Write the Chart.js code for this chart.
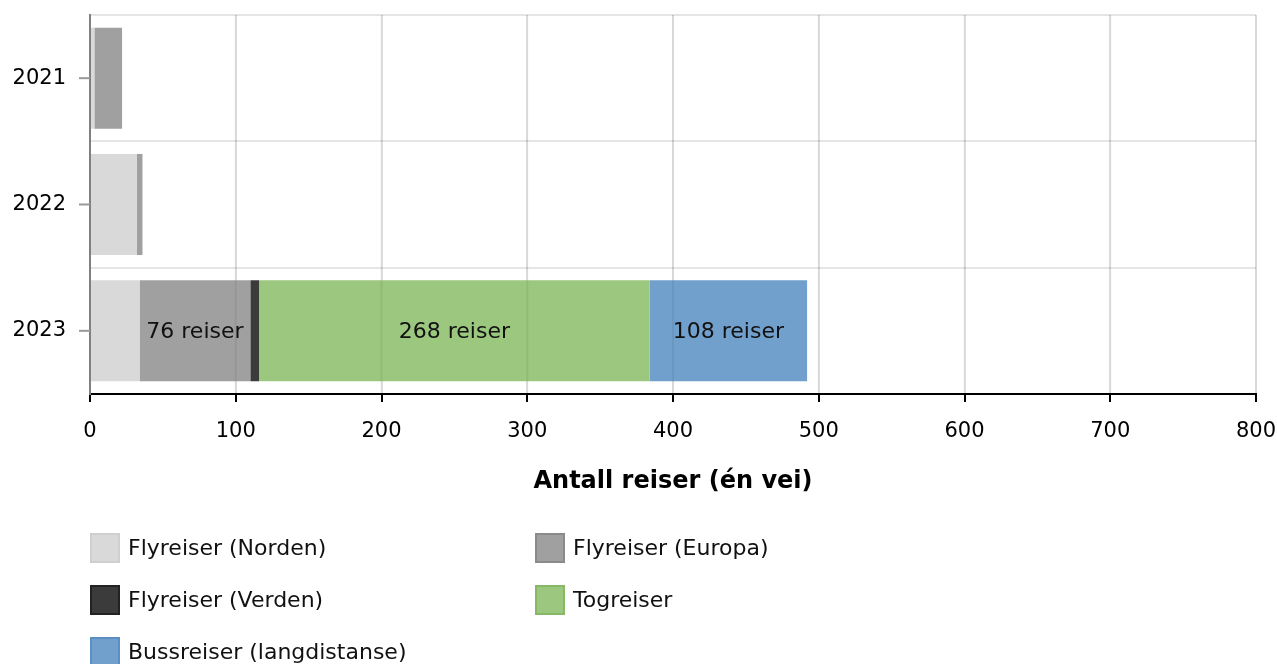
<!DOCTYPE html>
<html lang="no">
<head>
  <meta charset="UTF-8">
  <title>Antall reiser</title>
  <script src="https://cdn.jsdelivr.net/npm/chart.js"></script>
  <style>
    html, body { margin: 0; padding: 0; background: #fff; }
    #wrap { position: relative; width: 1277px; height: 664px; }
  </style>
</head>
<body>
  <div id="wrap">
    <canvas id="myChart" width="1277" height="664"></canvas>
  </div>
  <script>
    // data
    const years = ['2021', '2022', '2023'];
    const seriesNames = ['Flyreiser (Norden)', 'Flyreiser (Europa)', 'Flyreiser (Verden)', 'Togreiser', 'Bussreiser (langdistanse)'];
    const norden = [3, 32, 34];
    const europa = [19, 4, 76];
    const verden = [0, 0, 6];
    const tog = [0, 0, 268];
    const buss = [0, 0, 108];
    const xTicks = [0, 100, 200, 300, 400, 500, 600, 700, 800];

    const fills = ['#d9d9d9', '#a0a0a0', '#3b3b3b', '#9cc77f', '#72a0cc'];
    const borders = ['#cfcfcf', '#8a8a8a', '#222222', '#86b866', '#5b8fc4'];
    const FONT = '"DejaVu Sans", Verdana, sans-serif';

    // labels inside bars (only the wide segments) + faint grid lines over the bars
    const barLabels = {
      id: 'barLabels',
      afterDatasetsDraw(chart) {
        const ctx = chart.ctx;
        const xs = chart.scales.x;
        const area = chart.chartArea;
        ctx.save();
        ctx.strokeStyle = 'rgba(0,0,0,0.06)';
        ctx.lineWidth = 2;
        xTicks.forEach(v => {
          const x = xs.getPixelForValue(v);
          ctx.beginPath();
          ctx.moveTo(x, area.top);
          ctx.lineTo(x, area.bottom);
          ctx.stroke();
        });
        ctx.font = '22px ' + FONT;
        ctx.fillStyle = '#111';
        ctx.textAlign = 'center';
        ctx.textBaseline = 'middle';
        chart.data.datasets.forEach((ds, i) => {
          chart.getDatasetMeta(i).data.forEach((bar, j) => {
            const v = ds.data[j];
            if (v < 50) return;
            const cx = (bar.x + bar.base) / 2;
            ctx.fillText(v + ' reiser', cx, bar.y + 1);
          });
        });
        ctx.restore();
      }
    };

    // tick marks at category centres + legend in two columns
    const extras = {
      id: 'extras',
      afterDraw(chart) {
        const ctx = chart.ctx;
        const ys = chart.scales.y;
        const area = chart.chartArea;
        ctx.save();
        ctx.strokeStyle = '#999';
        ctx.lineWidth = 2;
        ys.ticks.forEach((t, i) => {
          const y = ys.getPixelForTick(i);
          ctx.beginPath();
          ctx.moveTo(area.left - 11, y);
          ctx.lineTo(area.left, y);
          ctx.stroke();
        });

        // legend
        ctx.font = '22px ' + FONT;
        ctx.textBaseline = 'middle';
        ctx.textAlign = 'left';
        chart.data.datasets.forEach((ds, i) => {
          const col = i % 2, row = Math.floor(i / 2);
          const x = area.left + col * 445;
          const y = 548 + row * 52;
          ctx.fillStyle = ds.backgroundColor;
          ctx.fillRect(x, y - 15, 30, 30);
          ctx.strokeStyle = ds.borderColor;
          ctx.lineWidth = 2;
          ctx.strokeRect(x + 1, y - 14, 28, 28);
          ctx.fillStyle = '#111';
          ctx.fillText(ds.label, x + 38, y + 1);
        });
        ctx.restore();
      }
    };

    const values = [norden, europa, verden, tog, buss];
    const ctx = document.getElementById('myChart').getContext('2d');
    const chart = new Chart(ctx, {
      type: 'bar',
      data: {
        labels: years,
        datasets: seriesNames.map((name, i) => ({
          label: name,
          data: values[i],
          backgroundColor: fills[i],
          borderColor: borders[i],
          borderWidth: 0,
          barPercentage: 0.8,
          categoryPercentage: 1.0
        }))
      },
      options: {
        indexAxis: 'y',
        responsive: false,
        animation: false,
        layout: { padding: { top: 15, right: 0, left: 0, bottom: 168 } },
        plugins: {
          legend: { display: false },
          tooltip: { enabled: false }
        },
        scales: {
          x: {
            stacked: true,
            min: 0,
            max: 800,
            afterBuildTicks: (s) => { s.ticks = xTicks.map(v => ({ value: v })); },
            grid: { color: 'rgba(0,0,0,0.1)', lineWidth: 2, tickColor: '#000', tickLength: 8, tickWidth: 2 },
            border: { color: '#000', width: 2 },
            ticks: { color: '#000', font: { family: FONT, size: 21 }, padding: 17, maxRotation: 0 },
            title: {
              display: true,
              text: 'Antall reiser (én vei)',
              color: '#000',
              font: { family: FONT, size: 24, weight: 'bold' },
              padding: { top: 6, bottom: 0 }
            },
            afterFit: (s) => { s.paddingRight = 21; s.paddingLeft = 0; }
          },
          y: {
            stacked: true,
            grid: { color: 'rgba(0,0,0,0.1)', lineWidth: 2, offset: true, drawTicks: false },
            border: { color: '#888', width: 2 },
            ticks: { color: '#000', font: { family: FONT, size: 21 }, padding: 24 },
            afterFit: (s) => { s.width = 90; s.paddingTop = 0; s.paddingBottom = 0; }
          }
        }
      },
      plugins: [barLabels, extras]
    });
  </script>
</body>
</html>
